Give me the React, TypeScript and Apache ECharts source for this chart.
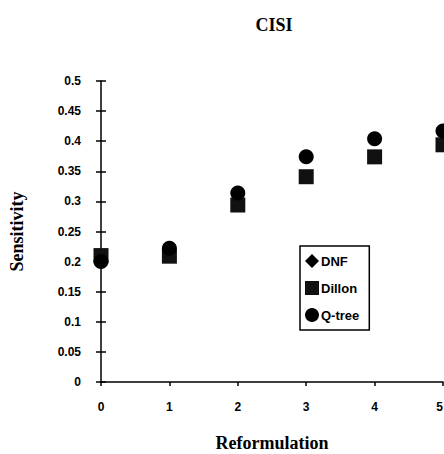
import React, { useEffect, useRef } from "react";
import * as echarts from "echarts";

const reformulations = [0, 1, 2, 3, 4, 5];
const dnfValues = [0.21, 0.209, 0.294, 0.341, 0.374, 0.394];
const dillonValues = [0.21, 0.209, 0.294, 0.341, 0.374, 0.394];
const qtreeValues = [0.2, 0.222, 0.314, 0.374, 0.404, 0.417];
const seriesNames = ["DNF", "Dillon", "Q-tree"];

const pairs = (vals: number[]) => reformulations.map((x, i) => [x, vals[i]]);

export default function App() {
  const ref = useRef<HTMLDivElement>(null);
  useEffect(() => {
    if (!ref.current) return;
    const chart = echarts.init(ref.current, undefined, { renderer: "svg" });
    const tickLabel = {
      color: "#000",
      fontFamily: "Liberation Sans, Arial, sans-serif",
      fontWeight: "bold" as const,
      fontSize: 12,
    };
    chart.setOption({
      animation: false,
      backgroundColor: "#fff",
      title: {
        text: "CISI",
        left: 269,
        top: 11,
        textAlign: "center",
        textStyle: {
          fontFamily: "Liberation Serif, Times New Roman, serif",
          fontWeight: "bold",
          fontSize: 18,
          color: "#000",
        },
      },
      grid: {
        left: 101,
        right: 1,
        top: 81,
        bottom: 72,
        containLabel: false,
        outerBoundsMode: "none",
      },
      legend: {
        orient: "vertical",
        left: 300,
        top: 246,
        width: 92,
        data: [
          { name: "DNF", icon: "diamond" },
          { name: "Dillon", icon: "rect" },
          { name: "Q-tree", icon: "circle" },
        ],
        itemWidth: 14,
        itemHeight: 14,
        itemGap: 13,
        padding: [8, 10, 8, 5],
        borderColor: "#000",
        borderWidth: 1.5,
        textStyle: {
          color: "#000",
          fontFamily: "Liberation Sans, Arial, sans-serif",
          fontWeight: "bold",
          fontSize: 13,
          padding: [0, 0, 0, -3],
        },
      },
      xAxis: {
        type: "value",
        min: 0,
        max: 5,
        interval: 1,
        name: "Reformulation",
        nameLocation: "middle",
        nameGap: 52,
        nameTextStyle: {
          fontFamily: "Liberation Serif, Times New Roman, serif",
          fontWeight: "bold",
          fontSize: 18,
          color: "#000",
        },
        splitLine: { show: false },
        axisLine: { onZero: false, lineStyle: { color: "#000", width: 1.5 } },
        axisTick: { show: true, inside: false, length: 4, lineStyle: { color: "#000", width: 1.5 } },
        axisLabel: { ...tickLabel, margin: 19, alignMaxLabel: "right" },
      },
      yAxis: [
        {
          type: "value",
          min: 0,
          max: 0.5,
          interval: 0.05,
          name: "Sensitivity",
          nameLocation: "middle",
          nameGap: 75,
          nameRotate: 90,
          nameTextStyle: {
            fontFamily: "Liberation Serif, Times New Roman, serif",
            fontWeight: "bold",
            fontSize: 18,
            color: "#000",
          },
          splitLine: { show: false },
          axisLine: { show: true, lineStyle: { color: "#000", width: 1.5 } },
          axisTick: { show: true, inside: false, length: 5, lineStyle: { color: "#000", width: 1.5 } },
          axisLabel: {
            ...tickLabel,
            margin: 20,
            formatter: (v: number) => String(parseFloat(v.toFixed(2))),
          },
        },
        {
          type: "value",
          min: 0,
          max: 0.5,
          interval: 0.05,
          position: "left",
          splitLine: { show: false },
          axisLine: { show: false },
          axisTick: { show: true, inside: true, length: 5, lineStyle: { color: "#000", width: 1.5 } },
          axisLabel: { show: false },
        },
      ],
      series: [
        {
          name: seriesNames[0],
          type: "scatter",
          symbol: "diamond",
          symbolSize: 14,
          itemStyle: { color: "#000", opacity: 1 },
          data: pairs(dnfValues),
          clip: false,
        },
        {
          name: seriesNames[1],
          type: "scatter",
          symbol: "rect",
          symbolSize: 15,
          itemStyle: { color: "#111", opacity: 1 },
          data: pairs(dillonValues),
          clip: false,
        },
        {
          name: seriesNames[2],
          type: "scatter",
          symbol: "circle",
          symbolSize: 15,
          itemStyle: { color: "#000", opacity: 1 },
          data: pairs(qtreeValues),
          clip: false,
        },
      ],
    });
    return () => chart.dispose();
  }, []);
  return <div ref={ref} style={{ width: 444, height: 454, position: "absolute", left: 0, top: 0 }} />;
}
